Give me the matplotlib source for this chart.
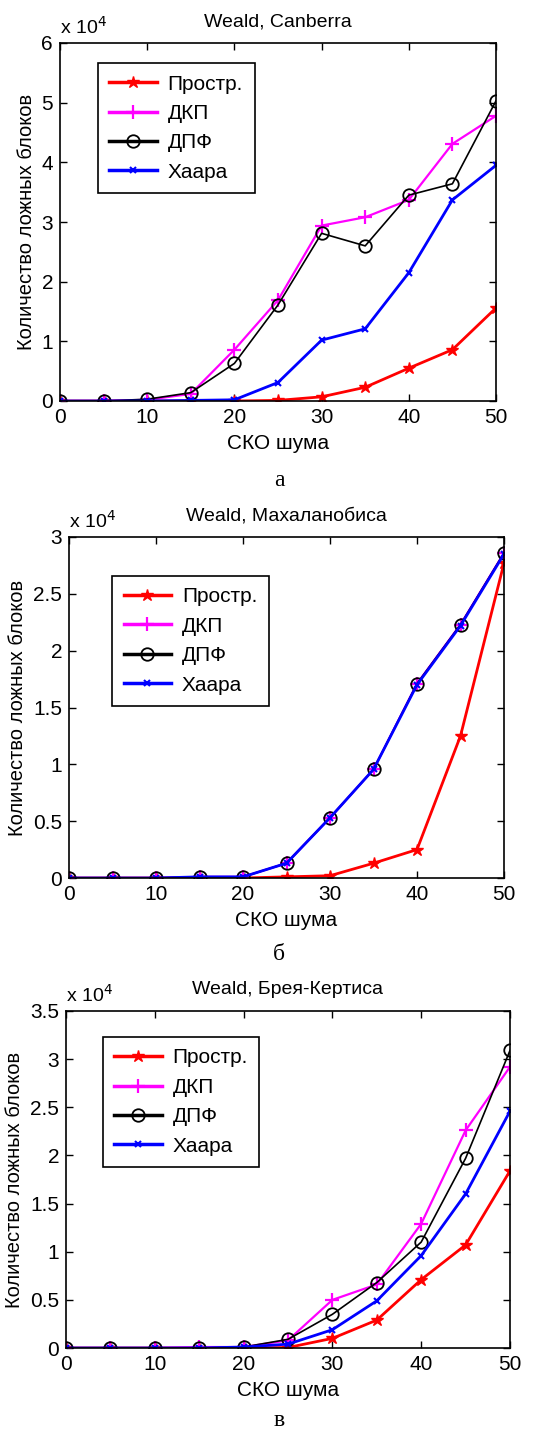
import numpy as np
import matplotlib
matplotlib.use("Agg")
import matplotlib.pyplot as plt
from matplotlib.ticker import FuncFormatter

plt.rcParams['font.family'] = ['Liberation Sans', 'DejaVu Sans']

noise = [0, 5, 10, 15, 20, 25, 30, 35, 40, 45, 50]
names = ["Простр.", "ДКП", "ДПФ", "Хаара"]

# значения в единицах 10^4
canb_prostr = [0, 0, 0, 0, 0, 0.01, 0.07, 0.23, 0.55, 0.86, 1.56]
canb_dkp = [0, 0, 0.02, 0.12, 0.86, 1.69, 2.94, 3.08, 3.37, 4.31, 4.78]
canb_dpf = [0, 0, 0.03, 0.14, 0.63, 1.61, 2.81, 2.60, 3.45, 3.64, 5.03]
canb_haar = [0, 0, 0, 0.01, 0.02, 0.31, 1.02, 1.21, 2.15, 3.37, 3.95]

mah_prostr = [0, 0, 0, 0, 0, 0.01, 0.02, 0.13, 0.25, 1.25, 2.77]
mah_dkp = [0, 0, 0, 0.01, 0.01, 0.13, 0.53, 0.955, 1.71, 2.23, 2.86]
mah_dpf = [0, 0, 0, 0.01, 0.01, 0.13, 0.53, 0.955, 1.71, 2.23, 2.86]
mah_haar = [0, 0, 0, 0.01, 0.01, 0.13, 0.53, 0.955, 1.70, 2.22, 2.85]

bc_prostr = [0, 0, 0, 0, 0, 0.005, 0.10, 0.29, 0.71, 1.07, 1.84]
bc_dkp = [0, 0, 0, 0.01, 0.01, 0.08, 0.50, 0.66, 1.29, 2.26, 2.92]
bc_dpf = [0, 0, 0, 0, 0.01, 0.09, 0.35, 0.68, 1.10, 1.97, 3.09]
bc_haar = [0, 0, 0, 0, 0.01, 0.04, 0.19, 0.49, 0.96, 1.60, 2.46]

W, H = 558, 1434
fig = plt.figure(figsize=(W / 100, H / 100), dpi=100)


def px_axes(x0, y0, x1, y1):
    return fig.add_axes([x0 / W, 1 - y1 / H, (x1 - x0) / W, (y1 - y0) / H])


def draw(ax, data, title, ymax, ystep, leg_xy, letter, letter_y):
    styles = [
        dict(color="#ff0000", marker="*", ms=9, lw=2.0),
        dict(color="#ff00ff", marker="+", ms=10, lw=1.6, mew=1.6),
        dict(color="#000000", marker="o", ms=9, lw=1.2, mfc="none", mew=1.3),
        dict(color="#0000ff", marker="x", ms=5, lw=2.0, mew=1.5),
    ]
    lines = []
    for ys, st, nm in zip(data, styles, names):
        ln, = ax.plot(noise, ys, label=nm, **st)
        lines.append(ln)
    ax.set_xlim(0, 50)
    ax.set_ylim(0, ymax)
    ax.set_xticks(np.arange(0, 51, 10))
    ax.set_yticks(np.arange(0, ymax + 1e-9, ystep))
    ax.yaxis.set_major_formatter(FuncFormatter(lambda v, p: "%g" % v))
    ax.tick_params(direction="in", top=True, right=True, labelsize=15,
                   length=5, width=1, pad=5)
    for s in ax.spines.values():
        s.set_linewidth(1.2)
    ax.set_title(title, fontsize=14, pad=12)
    ax.set_xlabel("СКО шума", fontsize=15, labelpad=5)
    ax.set_ylabel("Количество ложных блоков", fontsize=14.5, labelpad=4)
    ax.text(0.0, 1.015, "x 10$^4$", transform=ax.transAxes, fontsize=14,
            ha="left", va="bottom")
    leg = ax.legend(handles=lines, loc="upper left", bbox_to_anchor=leg_xy,
                    fancybox=False, edgecolor="black", framealpha=1,
                    fontsize=15, handlelength=2.3, labelspacing=0.5,
                    borderpad=0.55, handletextpad=0.5, borderaxespad=0)
    leg.get_frame().set_linewidth(1.2)
    for hl in leg.get_lines():
        hl.set_linewidth(2.5)
    fig.text(0.5, 1 - letter_y / H, letter, ha="center", va="center",
             fontsize=17, family="Liberation Serif")


ax1 = px_axes(60, 43, 496, 401)
draw(ax1, [canb_prostr, canb_dkp, canb_dpf, canb_haar], "Weald, Canberra",
     6, 1, (0.087, 0.944), "а", 480)

ax2 = px_axes(69, 537, 504, 878)
draw(ax2, [mah_prostr, mah_dkp, mah_dpf, mah_haar], "Weald, Махаланобиса",
     3, 0.5, (0.099, 0.886), "б", 955)

ax3 = px_axes(66, 1011, 510, 1348)
draw(ax3, [bc_prostr, bc_dkp, bc_dpf, bc_haar], "Weald, Брея-Кертиса",
     3.5, 0.5, (0.083, 0.923), "в", 1420)

fig.savefig("out.png", dpi=100)
